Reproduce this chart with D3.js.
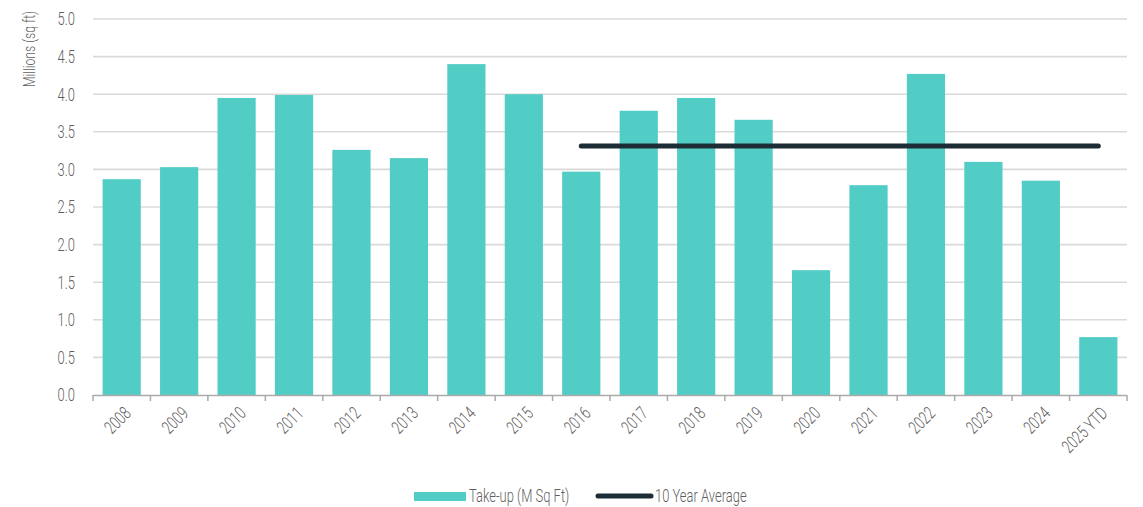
<!DOCTYPE html>
<html><head><meta charset="utf-8">
<script src="https://cdn.jsdelivr.net/npm/d3@7"></script>
<style>
body{margin:0;background:#fff;}
text{font-family:Roboto,"DejaVu Sans Condensed",sans-serif;font-weight:300;fill:#5f5f5f;}
</style></head>
<body><svg id="c" width="1143" height="507"></svg>
<script>
const categories=["2008","2009","2010","2011","2012","2013","2014","2015","2016","2017","2018","2019","2020","2021","2022","2023","2024","2025 YTD"];
const takeUp=[2.87,3.03,3.95,3.99,3.26,3.15,4.40,4.00,2.97,3.78,3.95,3.66,1.66,2.79,4.27,3.10,2.85,0.77];
const avgStart="2016", avgEnd="2025 YTD", avgValue=3.31;
const yTicks=[0,0.5,1,1.5,2,2.5,3,3.5,4,4.5,5];

const svg=d3.select("#c");
const L=93,R=1127,T=19,B=395;
const SX=0.72, FS=18;
const x=d3.scaleBand().domain(categories).range([L,R]).paddingInner(0.335).paddingOuter(0.167);
const y=d3.scaleLinear().domain([0,5]).range([B,T]);

function txt(g,px,py,rot,anchor,s,fs){
  return g.append("text").attr("transform",`translate(${px},${py}) rotate(${rot}) scale(${SX},1)`)
   .attr("text-anchor",anchor).attr("dy","0.35em").attr("font-size",fs||FS).text(s);
}

svg.append("g").selectAll("line").data(yTicks.filter(d=>d>0)).join("line")
 .attr("x1",L).attr("x2",R).attr("y1",d=>y(d)).attr("y2",d=>y(d))
 .attr("stroke","#dadada").attr("stroke-width",1.6);

const yg=svg.append("g");
yTicks.forEach(d=>txt(yg,75,y(d),0,"end",d.toFixed(1)));

svg.append("g").selectAll("rect").data(takeUp).join("rect")
 .attr("x",(d,i)=>x(categories[i])).attr("width",x.bandwidth())
 .attr("y",d=>y(d)).attr("height",d=>B-y(d)).attr("fill","#52cdc5");

// x axis
const xa=svg.append("g");
xa.append("line").attr("x1",L).attr("x2",R).attr("y1",B+0.5).attr("y2",B+0.5).attr("stroke","#aaa").attr("stroke-width",1.5);
xa.selectAll("line.t").data(d3.range(categories.length+1)).join("line").attr("class","t")
 .attr("x1",i=>L+i*(R-L)/categories.length).attr("x2",i=>L+i*(R-L)/categories.length)
 .attr("y1",B).attr("y2",B+6).attr("stroke","#aaa").attr("stroke-width",1.5);
categories.forEach(c=>txt(xa,x(c)+x.bandwidth()/2+6,B+15,-45,"end",c));

// average line
svg.append("line")
 .attr("x1",x(avgStart)+x.bandwidth()/2).attr("x2",x(avgEnd)+x.bandwidth()/2)
 .attr("y1",y(avgValue)).attr("y2",y(avgValue))
 .attr("stroke","#1d2d35").attr("stroke-width",5).attr("stroke-linecap","round");

// y label
txt(svg,29,49,-90,"middle","Millions (sq ft)",17);

// legend
const lg=svg.append("g");
lg.append("rect").attr("x",414).attr("y",492).attr("width",52).attr("height",9).attr("fill","#52cdc5");
txt(lg,469,496,0,"start","Take-up (M Sq Ft)");
lg.append("line").attr("x1",598).attr("x2",651).attr("y1",496).attr("y2",496).attr("stroke","#1d2d35").attr("stroke-width",5).attr("stroke-linecap","round");
txt(lg,655,496,0,"start","10 Year Average");
</script></body></html>
